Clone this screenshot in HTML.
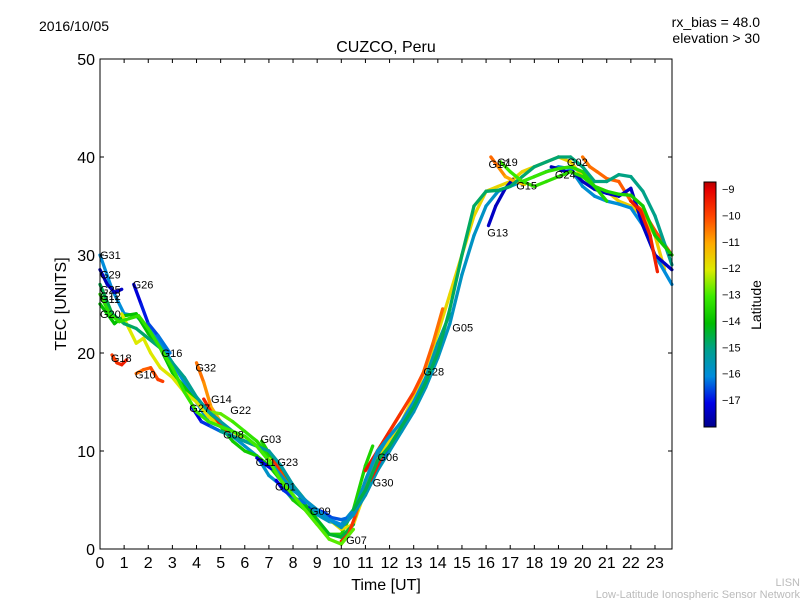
<!DOCTYPE html>
<html><head><meta charset="utf-8"><style>
body{margin:0;background:#fff}
svg text{font-family:"Liberation Sans","DejaVu Sans",sans-serif}
</style></head><body>
<svg id="c" width="800" height="600" viewBox="0 0 800 600">
<defs><linearGradient id="jet" x1="0" y1="1" x2="0" y2="0" id2="cbgrad"></linearGradient></defs>
<text x="39" y="31" font-size="14">2016/10/05</text>
<text x="760" y="27" font-size="14" text-anchor="end">rx_bias = 48.0</text>
<text x="760" y="43" font-size="14" text-anchor="end">elevation &gt; 30</text>
<text x="386" y="52" font-size="16" text-anchor="middle">CUZCO, Peru</text>
<g id="marks"></g>
<rect x="100" y="59" width="572" height="490" fill="none" stroke="#000" stroke-width="1"/>
<g id="axes"></g>
<text x="386" y="590" font-size="16" text-anchor="middle">Time [UT]</text>
<text transform="translate(66,304) rotate(-90)" font-size="16" text-anchor="middle">TEC [UNITS]</text>
<rect x="704" y="182" width="12" height="245" fill="url(#jet)" stroke="#000" stroke-width="1"/>
<text transform="translate(761,305) rotate(-90)" font-size="14" text-anchor="middle">Latitude</text>
<text x="800" y="586" font-size="11" fill="#bbb" text-anchor="end">LISN</text>
<text x="800" y="598" font-size="11" fill="#bbb" text-anchor="end">Low-Latitude Ionospheric Sensor Network</text>
</svg>
<script>
const xTicks=[0,1,2,3,4,5,6,7,8,9,10,11,12,13,14,15,16,17,18,19,20,21,22,23];
const yTicks=[0,10,20,30,40,50];
const cbTicks=[-9,-10,-11,-12,-13,-14,-15,-16,-17];
const trackNames=["G31","G20","G29","G26","G18","G10","G21","G32","G14","G22","G27","G03","G11","G23","G01","G09","G07","G28","G05","G13","G17","G02","G24","G08","G06","G30","G15","G16","G25","G19","G12","G04"];
const trackTimes=[
[0,0.5,1,1.5,2,2.5,3,3.5,4,4.5,5,5.5,6,6.5,7,7.5,8,8.5,9,9.5,10,10.5,11,11.5,12,12.5,13],
[0,0.3,0.6,1,1.5,2,2.5,3,3.5,4,4.5,5,5.5,6,6.5,7,7.5,8,8.5,9,9.5,10,10.5,11,11.3],
[0,0.3,0.6,0.9],
[1.4,1.7,2,2.4,2.9],
[0.5,0.7,0.9,1.1],
[1.5,1.8,2.1,2.4,2.6],
[0.9,1.2,1.5,1.8,2.1,2.5,3,3.5,4,4.5,5,5.5,6,6.5,7,7.5,8,8.5,9,9.5,10,10.5,11,11.5,12,12.5,13,13.5,14,14.5,15,15.5,16,16.5,17,17.5,18,18.5,19,19.5,20,20.5,21,21.5,22,22.5,23,23.4],
[4,4.3,4.6,5],
[4.3,4.6,4.9,5.3],
[4.5,5,5.5,6,6.5,7],
[3.8,4.2,4.6,5,5.5,6,6.5],
[6.7,7,7.4,8,8.5,9,9.5,10,10.5],
[6.5,6.8,7.1],
[7.2,7.5,7.8],
[7.3,7.6,8,8.5],
[8.7,9,9.3,9.6,10,10.3,10.7],
[10,10.3,10.6,11,11.5,12,12.5],
[11,11.5,12,12.5,13,13.4,13.8,14.2],
[10.5,11,11.5,12,12.5,13,13.5,14,14.5,15,15.5,16,16.5,17,17.5,18,18.5,19,19.5,20,20.5,21,21.5,22,22.5,23,23.7],
[16.1,16.4,16.8,17.1],
[16.2,16.5,16.8,17.2,17.6],
[20,20.3,20.6,21,21.5,22,22.5,23,23.7],
[18.7,19,19.3,19.6,20,20.5,21,21.5,22,22.5,23,23.7],
[5,5.5,6,6.5,7,7.5,8,8.5,9,9.5,10,10.5,11,11.5,12,12.5,13,13.5,14],
[11.5,12,12.5,13,13.5,14,14.5],
[11.2,11.4,11.7],
[17.5,18,18.5,19,19.5,20,20.5,21],
[10.5,11,11.5,12,12.5,13,13.5,14,14.5,15,15.5,16,16.5,17,17.5,18,18.5,19,19.5,20,20.5,21,21.5,22,22.5,23,23.7],
[0,0.5,1,1.5,2,2.5,3,3.5,4,4.5,5,5.5,6,6.5,7,7.5,8,8.5,9,9.5,10],
[16.6,17,17.5,18,18.5,19,19.5,20,20.5,21,21.5,22,22.5,23,23.7],
[0,0.4,0.8,1.2,1.6,2,2.5,3,3.5,4,4.5,5,5.5,6,6.5,7,7.5,8,8.5,9,9.5,10,10.5],
[22,22.4,22.8,23.1]
];
const trackTec=[
[30,26.5,24,23.8,22.5,21,19,17,15,13,12.5,11.5,10.5,9.5,7.5,6.5,5,4.5,3.5,2.8,2.5,4,6.5,9.5,11,12.5,14.5],
[25,24,23,23.8,24,22,20.5,18,16.5,15,14,12.5,11,10,9.5,8.5,7,5,4,2.5,1.5,1.5,4,8.5,10.5],
[28.5,27,26.2,26.5],
[27,25,23,21.8,20],
[19.8,19,18.8,19.3],
[17.9,18.3,18.5,17.3,17.1],
[24,22.5,21,21.5,20,18.5,17.5,16,15,13.5,12.5,12,11,10.5,9.5,8,6.5,5,4,3,2,2.5,6,9,11,13,15.5,18.5,22,26,30,34,36.5,37,37.5,38.5,39,39.5,40,39.5,38,37,36.5,35.5,35,34,32,28.5],
[19,17,14.5,13],
[15.3,14,13,12],
[14,13.8,13,12,11,9.5],
[14.5,13,12.5,12,11.5,11,10.5],
[11,9.8,8.5,6.5,4.5,3,1.5,1.2,2.5],
[9.3,8.7,8.2],
[9,7.8,6.5],
[7,6,5.3,4.7],
[4.3,4,3.7,3.2,3,3.2,4.5],
[0.8,1.5,3.5,7,10,12,14],
[8,10,12,14,16,18,21,24.5],
[3.5,5.5,8,10,12,14,16.5,19.5,23,28,32,35,36.5,37,37.5,38,38.5,39,38.8,37,36,35.5,35.2,34.8,33,30,27],
[33,35,36.8,37.7],
[40,39,38,37.5,37.2],
[40,39,38.5,37.8,37.5,35.5,34.5,32.5,30],
[39,38.8,38.5,38.5,37.5,36.7,36.3,36,36.8,33,30,28.5],
[12,11.5,11,10.5,10,8.5,6.5,5,3.8,3,2.2,3.5,7,10,11.5,13,15,17.5,20.5],
[8.5,10.5,12.5,14.5,17.5,21,24],
[7,8,9.5],
[37.5,38,38.5,38.8,39,38.5,37,35.5],
[4,6,9,10.5,12.5,14.5,17,20,24.5,30,35,36.5,36.6,37,38,39,39.5,40,40,39,37.5,37.5,38.2,38,36.5,34,29],
[27,24,23,22.5,21.5,20.5,19,17.5,15.5,14,13,12,11.5,10.5,9,7.5,6,5,4,3,2.5],
[39.5,38.5,37.5,37,37.5,38,38.5,38,37,36.5,36.2,36.1,35,32,30],
[26,24,23.2,23.5,23.8,22.5,20.5,18.5,16,14,13,12.5,12,11.5,10.5,9,7,5.5,4,2.5,1,0.5,2],
[35.5,34.5,32,28.3]
];
const trackLatStart=[-16,-14,-17.5,-17.3,-10,-10.5,-12,-10.3,-9.5,-12.5,-17.2,-13.5,-17.3,-9.5,-17.3,-17,-9.3,-9.2,-15.5,-17.3,-10.2,-10.5,-17.5,-15,-16.5,-9.3,-13,-14.5,-14.5,-13,-13.3,-9.3];
const trackLatEnd=[-15.5,-13.5,-17.3,-16,-9.3,-9.8,-11.5,-11.2,-9.5,-13.5,-15,-14.5,-17,-10,-16,-16,-11,-10.5,-16,-17.5,-11.5,-10,-17.3,-16,-15,-9.5,-13.5,-15,-16,-13.8,-12.8,-9.5];
const labelNames=["G31","G29","G25","G12","G11","G20","G26","G18","G16","G10","G32","G14","G22","G27","G08","G03","G11","G23","G01","G09","G07","G06","G30","G28","G05","G13","G17","G19","G15","G02","G24"];
const labelT=[0,0,0,0,0,0,1.35,0.45,2.55,1.45,3.95,4.6,5.4,3.7,5.1,6.65,6.45,7.35,7.25,8.7,10.2,11.5,11.3,13.4,14.6,16.05,16.1,16.45,17.25,19.35,18.85];
const labelTec=[30,28,26.5,25.8,25.5,24,27,19.5,20,17.8,18.5,15.3,14.2,14.4,11.7,11.2,8.9,8.9,6.4,3.9,0.9,9.4,6.8,18.1,22.6,32.3,39.3,39.5,37.1,39.5,38.2];
const L=100,R=672,T=59,B=549,ymin=0,ymax=50;
const X=t=>L+t*24.13;
const Y=v=>B-(v-ymin)*(B-T)/(ymax-ymin);
const cbTop=189,cbPerUnit=(400-189)/8;
const CBY=l=>cbTop+(-9-l)*cbPerUnit;
// colormap stops (latitude -> rgb)
const cmap=[[-17.9,[0,0,140]],[-17,[0,0,230]],[-16,[0,140,220]],[-15,[0,160,140]],[-14,[0,190,0]],[-13,[60,235,0]],[-12,[220,235,0]],[-11,[255,170,0]],[-10,[255,70,0]],[-9,[230,0,0]],[-8.7,[180,0,0]]];
function latColor(l){
 if(l<=cmap[0][0])return `rgb(${cmap[0][1]})`;
 for(let i=0;i<cmap.length-1;i++){const a=cmap[i],b=cmap[i+1];if(l<=b[0]){const f=(l-a[0])/(b[0]-a[0]);return 'rgb('+a[1].map((c,k)=>Math.round(c+(b[1][k]-c)*f)).join(',')+')';}}
 return `rgb(${cmap[cmap.length-1][1]})`;
}
const NS="http://www.w3.org/2000/svg";
const grad=document.getElementById('jet');
cmap.forEach(s=>{const st=document.createElementNS(NS,'stop');st.setAttribute('offset',((s[0]+17.9)/9.2).toFixed(3));st.setAttribute('stop-color',`rgb(${s[1]})`);grad.appendChild(st);});
const marks=document.getElementById('marks'),axes=document.getElementById('axes');
trackTimes.forEach((ts,i)=>{
 const g=document.createElementNS(NS,'g');
 
 
 for(let k=0;k<ts.length-1;k++){
  const fr=(k+0.5)/(ts.length-1);
  const lat=trackLatStart[i]+(trackLatEnd[i]-trackLatStart[i])*fr;
  const ln=document.createElementNS(NS,'line');
  ln.setAttribute('x1',X(ts[k]));ln.setAttribute('y1',Y(trackTec[i][k]));
  ln.setAttribute('x2',X(ts[k+1]));ln.setAttribute('y2',Y(trackTec[i][k+1]));
  ln.setAttribute('stroke',latColor(lat));ln.setAttribute('stroke-width','3.3');ln.setAttribute('stroke-linecap','round');
  g.appendChild(ln);
 }
 marks.appendChild(g);
});
labelNames.forEach((n,i)=>{
 const t=document.createElementNS(NS,'text');
 
 
 t.setAttribute('x',X(labelT[i]));t.setAttribute('y',Y(labelTec[i])+4);t.setAttribute('font-size','11');
 t.textContent=n;marks.appendChild(t);
});
xTicks.forEach(v=>{
 const x=X(v);
 const p=document.createElementNS(NS,'path');
 
 
 p.setAttribute('d',`M${x},${B}v-4M${x},${T}v4`);p.setAttribute('stroke','#000');axes.appendChild(p);
 const t=document.createElementNS(NS,'text');
 
 
 t.setAttribute('x',x);t.setAttribute('y',568);t.setAttribute('font-size','16');t.setAttribute('text-anchor','middle');t.textContent=v;axes.appendChild(t);
});
yTicks.forEach(v=>{
 const y=Y(v);
 const p=document.createElementNS(NS,'path');
 
 
 p.setAttribute('d',`M${L},${y}h4M${R},${y}h-4`);p.setAttribute('stroke','#000');axes.appendChild(p);
 const t=document.createElementNS(NS,'text');
 
 
 t.setAttribute('x',95);t.setAttribute('y',y+6);t.setAttribute('font-size','16');t.setAttribute('text-anchor','end');t.textContent=v;axes.appendChild(t);
});
cbTicks.forEach(v=>{
 const y=CBY(v);
 const p=document.createElementNS(NS,'path');
 
 
 p.setAttribute('d',`M704,${y}h3M716,${y}h-3`);p.setAttribute('stroke','#000');axes.appendChild(p);
 const t=document.createElementNS(NS,'text');
 
 
 t.setAttribute('x',722);t.setAttribute('y',y+4);t.setAttribute('font-size','11');t.textContent='\u2212'+(-v);axes.appendChild(t);
});
</script>
</body></html>
